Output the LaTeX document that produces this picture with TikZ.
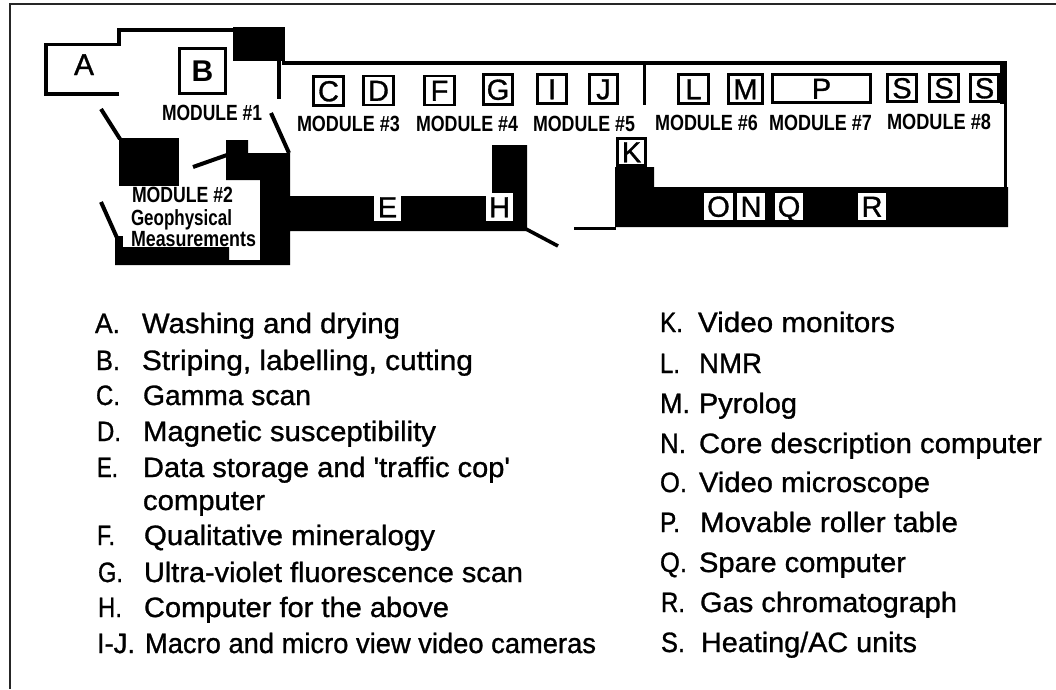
\documentclass[tikz,border=0pt]{standalone}
\usepackage{fontspec}
\setmainfont{Liberation Sans}
\newfontfamily\listfont[FakeBold=1.0]{Liberation Sans}
\newfontfamily\boxfont[FakeBold=1.0]{Liberation Sans}
\newcommand{\modlab}[2]{\resizebox{#1pt}{\height}{\fontsize{22}{22}\selectfont\bfseries #2}}
\newcommand{\lw}[2]{\resizebox{#1pt}{\height}{\fontsize{28}{28}\listfont #2}}
\tikzset{
  wall/.style={draw=black,line width=3.6pt,line cap=butt,line join=miter},
  thinwall/.style={draw=black,line width=3pt},
  lbox/.style={draw=black,fill=white,line width=2.8pt,inner sep=0pt,outer sep=0pt,
     font=\fontsize{29}{29}\boxfont,text height=20.5pt,text depth=0pt},
  wbox/.style={fill=white,inner sep=0pt,outer sep=0pt,
     font=\fontsize{29}{29}\boxfont,text height=20.5pt,text depth=0pt},
  modtext/.style={anchor=base west,inner sep=0pt,outer sep=0pt},
  listtext/.style={anchor=base west,inner sep=0pt,outer sep=0pt},
}
\begin{document}
\begin{tikzpicture}[x=1pt,y=-1pt]
\useasboundingbox (0,0) rectangle (1056,689);
\fill[white] (0,0) rectangle (1056,689);
% frame
\draw[black!85,line width=2pt] (1056,3.5) -- (10,3.5) -- (10,689);
% solid masses
\fill[black] (233,27) rectangle (285,61);
\fill[black] (119,138) rectangle (179,186);
\fill[black] (226,140) -- (248,140) -- (248,153) -- (290,153) -- (290,196) -- (492,196)
  -- (492,145) -- (527,145) -- (527,231) -- (290,231) -- (290,265) -- (115,265)
  -- (115,247) -- (229,247) -- (229,260) -- (260,260) -- (260,180) -- (226,180) -- cycle;
\fill[black] (115,236) rectangle (123,247);
\fill[black] (615,167) -- (654,167) -- (654,187) -- (1008,187) -- (1008,227) -- (615,227) -- cycle;
\fill[black] (1000,64) rectangle (1007,104);
% walls
\draw[wall] (119,94) -- (46,94) -- (46,44.5) -- (119,44.5) -- (119,30) -- (233,30);
\draw[wall] (279,61) -- (279,99);
\draw[wall] (282,63) -- (1007,63);
\draw[wall] (1005.5,63) -- (1005.5,188);
\draw[thinwall] (644,63) -- (644,105);
\draw[wall] (574,228.5) -- (616,228.5);
\draw[line width=4pt] (101,109) -- (120,139);
\draw[line width=4pt] (193,167) -- (227,155);
\draw[line width=4pt] (271,113) -- (289,153);
\draw[line width=4pt] (101,202) -- (118,240);
\draw[line width=3.6pt] (526,229) -- (558,246);
% room letters
\node[modtext,font=\fontsize{30}{30}\boxfont] (lA) at (74,75) {A};
\node[draw=black,fill=white,line width=3.6pt,inner sep=0pt,outer sep=0pt,minimum width=46pt,minimum height=45pt,font=\fontsize{30}{30}\selectfont\bfseries] (B) at (202.5,71) {B};
% instrument boxes
\node[lbox,minimum width=30pt,minimum height=29pt] (C) at (328.5,91) {C};
\node[lbox,minimum width=30pt,minimum height=29pt] (D) at (378.5,90.5) {D};
\node[lbox,minimum width=30pt,minimum height=29pt] (F) at (439.5,90.5) {F};
\node[lbox,minimum width=29pt,minimum height=30pt] (G) at (498,89.5) {G};
\node[lbox,minimum width=29pt,minimum height=29pt] (I) at (552,89) {I};
\node[lbox,minimum width=28pt,minimum height=29pt] (J) at (603.5,89) {J};
\node[lbox,minimum width=30pt,minimum height=29pt] (L) at (693.5,89) {L};
\node[lbox,minimum width=34pt,minimum height=29pt] (M) at (745.5,89) {M};
\node[lbox,minimum width=98pt,minimum height=28pt] (P) at (821.5,88.5) {P};
\node[lbox,minimum width=29pt,minimum height=27pt] (S1) at (902,88) {S};
\node[lbox,minimum width=29pt,minimum height=27pt] (S2) at (944,88) {S};
\node[lbox,minimum width=28pt,minimum height=27pt] (S3) at (984.5,88) {S};
\node[lbox,minimum width=28pt,minimum height=27pt] (K) at (631.5,152) {K};
% band labels
\node[wbox,minimum width=27pt,minimum height=28pt] (E) at (387.5,207) {E};
\node[wbox,minimum width=27pt,minimum height=28pt] (H) at (499.5,207) {H};
\node[wbox,minimum width=29pt,minimum height=27pt] (O) at (718.5,206.5) {O};
\node[wbox,minimum width=28pt,minimum height=27pt] (N) at (751,206.5) {N};
\node[wbox,minimum width=28pt,minimum height=27pt] (Q) at (789,206.5) {Q};
\node[wbox,minimum width=28pt,minimum height=27pt] (R) at (872,206.5) {R};
% module labels
\node[modtext] (m1) at (162,120) {\modlab{100}{MODULE \#1}};
\node[modtext] (m3) at (297,131) {\modlab{103}{MODULE \#3}};
\node[modtext] (m4) at (416,131) {\modlab{102}{MODULE \#4}};
\node[modtext] (m5) at (533,131) {\modlab{102}{MODULE \#5}};
\node[modtext] (m6) at (655,130) {\modlab{103}{MODULE \#6}};
\node[modtext] (m7) at (769,130) {\modlab{103}{MODULE \#7}};
\node[modtext] (m8) at (887,129) {\modlab{104}{MODULE \#8}};
\node[modtext] (m2) at (132,202) {\modlab{101}{MODULE \#2}};
\node[modtext] (m2b) at (131,225) {\modlab{101}{Geophysical}};
\node[modtext] (m2c) at (131,246) {\modlab{125}{Measurements}};
% left list
\node[listtext] (ka) at (95,333) {\lw{25}{A.}};   \node[listtext] (ta) at (142,333) {\lw{258}{Washing and drying}};
\node[listtext] (kb) at (96,370) {\lw{24}{B.}};   \node[listtext] (tb) at (142,370) {\lw{331}{Striping, labelling, cutting}};
\node[listtext] (kc) at (96,405) {\lw{24}{C.}};   \node[listtext] (tc) at (143,405) {\lw{168}{Gamma scan}};
\node[listtext] (kd) at (97,441) {\lw{24}{D.}};   \node[listtext] (td) at (143,441) {\lw{293}{Magnetic susceptibility}};
\node[listtext] (ke) at (97,477) {\lw{21}{E.}};   \node[listtext] (te) at (143,477) {\lw{367}{Data storage and 'traffic cop'}};
\node[listtext] (te2) at (143,510) {\lw{122}{computer}};
\node[listtext] (kf) at (97,545) {\lw{18}{F.}};   \node[listtext] (tf) at (144,545) {\lw{291}{Qualitative mineralogy}};
\node[listtext] (kg) at (98,582) {\lw{25}{G.}};   \node[listtext] (tg) at (144,582) {\lw{379}{Ultra-violet fluorescence scan}};
\node[listtext] (kh) at (98,617) {\lw{24}{H.}};   \node[listtext] (th) at (144,617) {\lw{305}{Computer for the above}};
\node[listtext] (ki) at (97,653) {\lw{38}{I-J.}}; \node[listtext] (ti) at (145,653) {\lw{451}{Macro and micro view video cameras}};
% right list
\node[listtext] (kk) at (660,332) {\lw{23}{K.}};  \node[listtext] (tk) at (698,332) {\lw{197}{Video monitors}};
\node[listtext] (kl) at (660,373) {\lw{20}{L.}};  \node[listtext] (tl) at (699,373) {\lw{63}{NMR}};
\node[listtext] (km) at (660,413) {\lw{30}{M.}};  \node[listtext] (tm) at (699,413) {\lw{98}{Pyrolog}};
\node[listtext] (kn) at (660,453) {\lw{26}{N.}};  \node[listtext] (tn) at (699,453) {\lw{343}{Core description computer}};
\node[listtext] (ko) at (660,492) {\lw{27}{O.}};  \node[listtext] (to) at (699,492) {\lw{231}{Video microscope}};
\node[listtext] (kp) at (660,532) {\lw{20}{P.}};  \node[listtext] (tp) at (700,532) {\lw{258}{Movable roller table}};
\node[listtext] (kq) at (660,572) {\lw{27}{Q.}};  \node[listtext] (tq) at (699,572) {\lw{207}{Spare computer}};
\node[listtext] (kr) at (661,612) {\lw{24}{R.}};  \node[listtext] (tr) at (700,612) {\lw{257}{Gas chromatograph}};
\node[listtext] (ks) at (661,652) {\lw{24}{S.}};  \node[listtext] (ts) at (701,652) {\lw{216}{Heating/AC units}};
\end{tikzpicture}
\end{document}
